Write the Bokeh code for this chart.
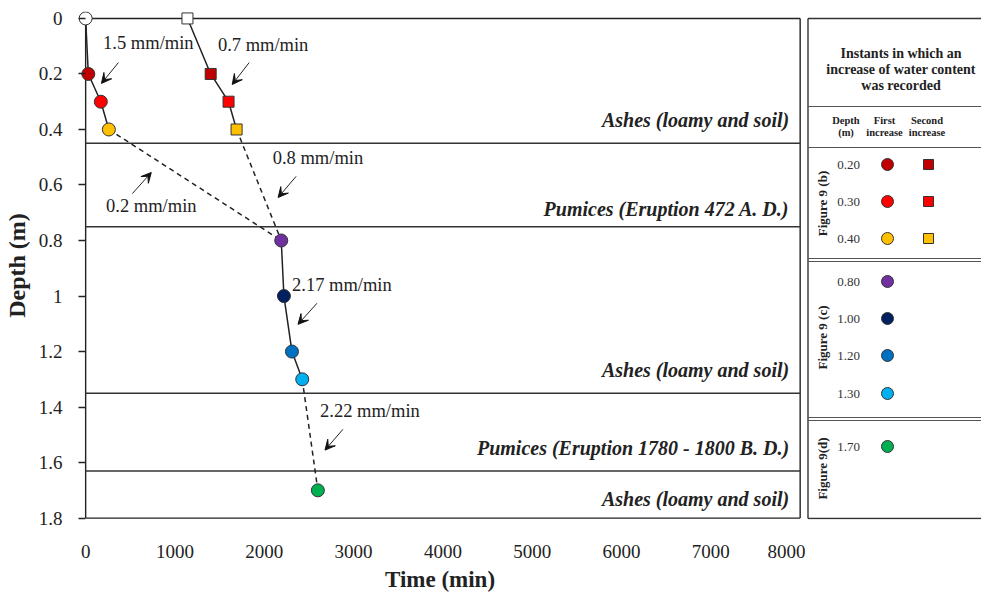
import math
from bokeh.plotting import figure
from bokeh.layouts import row
from bokeh.models import (Range1d, ColumnDataSource, Arrow, VeeHead, FixedTicker,
                          CustomJSTickFormatter)
from bokeh.core.properties import value
from bokeh.embed import file_html
from bokeh.resources import INLINE

SERIF = "Liberation Serif"

# ---- data -------------------------------------------------------------
# first increase of water content (circles): depth (m) and time (min)
circle_depth = [0.0, 0.2, 0.3, 0.4, 0.8, 1.0, 1.2, 1.3, 1.7]
circle_time = [0, 30, 170, 260, 2190, 2220, 2310, 2425, 2600]
circle_color = ["#FFFFFF", "#C00000", "#FF0000", "#FFC000", "#7030A0",
                "#002060", "#0070C0", "#00B0F0", "#00B050"]

# second increase of water content (squares)
square_depth = [0.0, 0.2, 0.3, 0.4]
square_time = [1140, 1400, 1600, 1690]
square_color = ["#FFFFFF", "#C00000", "#FF0000", "#FFC000"]

# soil layers
layer_bounds = [0.45, 0.75, 1.35, 1.63]
layer_names = ["Ashes (loamy and soil)", "Pumices (Eruption 472 A. D.)",
               "Ashes (loamy and soil)", "Pumices (Eruption 1780 - 1800 B. D.)",
               "Ashes (loamy and soil)"]
layer_label_depth = [0.367, 0.686, 1.267, 1.548, 1.732]

# infiltration rates
rate_labels = ["1.5 mm/min", "0.7 mm/min", "0.8 mm/min", "0.2 mm/min",
               "2.17 mm/min", "2.22 mm/min"]

x_ticks = [0, 1000, 2000, 3000, 4000, 5000, 6000, 7000, 8000]
y_ticks = [0, 0.2, 0.4, 0.6, 0.8, 1.0, 1.2, 1.4, 1.6, 1.8]

# legend table
legend_title = ["Instants in which an", "increase of water content", "was recorded"]
legend_depths = ["0.20", "0.30", "0.40", "0.80", "1.00", "1.20", "1.30", "1.70"]
legend_circle_color = circle_color[1:]
legend_square_color = square_color[1:]
legend_groups = ["Figure 9 (b)", "Figure 9 (c)", "Figure 9(d)"]

# ---- main chart --------------------------------------------------------
BORDER_TOP, BORDER_BOTTOM, HEIGHT = 11, 76, 595

p = figure(width=805, height=HEIGHT, x_range=Range1d(-80, 8015),
           y_range=Range1d(1.805, -0.025), toolbar_location=None,
           output_backend="svg", min_border_left=77, min_border_right=4,
           min_border_top=BORDER_TOP, min_border_bottom=BORDER_BOTTOM)
p.grid.visible = False
p.outline_line_color = None
p.background_fill_color = "white"

xa = p.xaxis[0]
xa.ticker = FixedTicker(ticks=x_ticks)
xa.axis_line_color = None
xa.major_tick_line_color = None
xa.minor_tick_line_color = None
xa.major_label_standoff = 19
xa.major_label_text_font = SERIF
xa.major_label_text_font_size = "19px"
xa.major_label_text_color = "#222222"
xa.axis_label = "Time (min)"
xa.axis_label_text_font = SERIF
xa.axis_label_text_font_size = "23px"
xa.axis_label_text_font_style = "bold"
xa.axis_label_text_color = "#222222"
xa.axis_label_standoff = 6

ya = p.yaxis[0]
ya.ticker = FixedTicker(ticks=y_ticks)
ya.formatter = CustomJSTickFormatter(code="return String(Number(tick.toFixed(1)));")
ya.axis_line_color = None
ya.major_tick_in = 7
ya.major_tick_out = 0
ya.major_tick_line_color = "#222222"
ya.major_tick_line_width = 1.3
ya.minor_tick_line_color = None
ya.major_label_standoff = 16
ya.major_label_text_font = SERIF
ya.major_label_text_font_size = "19px"
ya.major_label_text_color = "#222222"
ya.axis_label = "Depth (m)"
ya.axis_label_text_font = SERIF
ya.axis_label_text_font_size = "24px"
ya.axis_label_text_font_style = "bold"
ya.axis_label_text_color = "#222222"
ya.axis_label_standoff = 6

t_max = x_ticks[-1]
d_max = y_ticks[-1]

# plot box and axis line
p.segment(x0=[0, 0, t_max, 0], y0=[0, d_max, 0, 0],
          x1=[t_max, t_max, t_max, 0], y1=[0, d_max, d_max, d_max],
          line_color="#222222", line_width=1.4)

# layer boundaries
p.segment(x0=[0] * len(layer_bounds), x1=[t_max] * len(layer_bounds),
          y0=layer_bounds, y1=layer_bounds, line_color="#333333", line_width=1.5)

# layer names
p.text(x=[t_max] * len(layer_names), y=layer_label_depth, text=layer_names,
       x_offset=-11, text_align="right", text_baseline="middle",
       text_font=value(SERIF), text_font_size="20px",
       text_font_style="bold italic", text_color="#222222")

# connecting lines (solid within a layer, dashed across layers)
line_kw = dict(line_color="#222222", line_width=1.5)
p.line(circle_time[0:4], circle_depth[0:4], **line_kw)
p.line(square_time, square_depth, **line_kw)
p.line(circle_time[4:8], circle_depth[4:8], **line_kw)
dash_kw = dict(line_color="#222222", line_width=1.5, line_dash="5 4")
p.line([circle_time[3], circle_time[4]], [circle_depth[3], circle_depth[4]], **dash_kw)
p.line([square_time[3], circle_time[4]], [square_depth[3], circle_depth[4]], **dash_kw)
p.line([circle_time[7], circle_time[8]], [circle_depth[7], circle_depth[8]], **dash_kw)

# markers
p.scatter(square_time, square_depth, marker="square", size=11,
          fill_color=square_color, line_color="#333333", line_width=1)
p.scatter(circle_time, circle_depth, marker="circle", size=13,
          fill_color=circle_color, line_color="#333333", line_width=1)

# rate annotations with arrows
rate_text_x = [702, 1987, 2601, 735, 2869, 3183]
rate_text_y = [0.090, 0.094, 0.501, 0.677, 0.961, 1.415]
arrow_x0 = [367, 1831, 2356, 523, 2590, 2881]
arrow_y0 = [0.159, 0.159, 0.569, 0.631, 1.026, 1.480]
arrow_x1 = [177, 1641, 2155, 735, 2378, 2680]
arrow_y1 = [0.234, 0.238, 0.645, 0.555, 1.102, 1.555]

p.text(x=rate_text_x, y=rate_text_y, text=rate_labels, text_align="center",
       text_baseline="middle", text_font=value(SERIF), text_font_size="18.5px",
       text_color="#222222")
arrows = ColumnDataSource(dict(x0=arrow_x0, y0=arrow_y0, x1=arrow_x1, y1=arrow_y1))
p.add_layout(Arrow(source=arrows, x_start="x0", y_start="y0", x_end="x1", y_end="y1",
                   line_color="#222222", line_width=1,
                   end=VeeHead(size=10, fill_color="#111111", line_color="#111111",
                               line_width=1)))

# ---- legend table (coordinates in page pixels) ---------------------------
lg = figure(width=176, height=HEIGHT, x_range=Range1d(0, 176),
            y_range=Range1d(HEIGHT - BORDER_BOTTOM, BORDER_TOP),
            toolbar_location=None, output_backend="svg", x_axis_type=None,
            y_axis_type=None, min_border_left=0, min_border_right=0,
            min_border_top=BORDER_TOP, min_border_bottom=BORDER_BOTTOM)
lg.grid.visible = False
lg.outline_line_color = None

box_l, box_r, box_t, box_b = 2.5, 200, 18, 518
rule_y = [106, 147, 258, 261, 417, 420]
lg.segment(x0=[box_l, box_l, box_l], y0=[box_t, box_t, box_b],
           x1=[box_l, box_r, box_r], y1=[box_b, box_t, box_b],
           line_color="#333333", line_width=1.4)
lg.segment(x0=[box_l] * len(rule_y), x1=[box_r] * len(rule_y), y0=rule_y, y1=rule_y,
           line_color="#555555", line_width=1.1)

lg.text(x=[95.5] * 3, y=[53, 69, 85], text=legend_title, text_align="center",
        text_baseline="middle", text_font=value(SERIF), text_font_size="14px",
        text_font_style="bold", text_color="#222222")

hdr = dict(text_align="center", text_baseline="middle", text_font=value(SERIF),
           text_font_size="10.5px", text_font_style="bold", text_color="#222222")
lg.text(x=[40.5, 79, 121.5], y=[120] * 3, text=["Depth", "First", "Second"], **hdr)
lg.text(x=[40.5, 79, 121.5], y=[132] * 3, text=["(m)", "increase", "increase"], **hdr)

row_y = [164, 201, 238, 281, 318, 355, 393, 446]
lg.text(x=[43] * len(legend_depths), y=row_y, text=legend_depths, text_align="center",
        text_baseline="middle", text_font=value(SERIF), text_font_size="13px",
        text_color="#333333")
lg.scatter([82] * len(legend_circle_color), row_y, marker="circle", size=12,
           fill_color=legend_circle_color, line_color="#333333", line_width=1)
lg.scatter([123] * len(legend_square_color), row_y[:len(legend_square_color)],
           marker="square", size=10, fill_color=legend_square_color,
           line_color="#333333", line_width=1)

lg.text(x=[17] * 3, y=[203, 337, 468], text=legend_groups, angle=math.pi / 2,
        text_align="center", text_baseline="middle", text_font=value(SERIF),
        text_font_size="13px", text_font_style="bold", text_color="#222222")

layout = row(p, lg)
open("out.html", "w").write(file_html(layout, INLINE))
